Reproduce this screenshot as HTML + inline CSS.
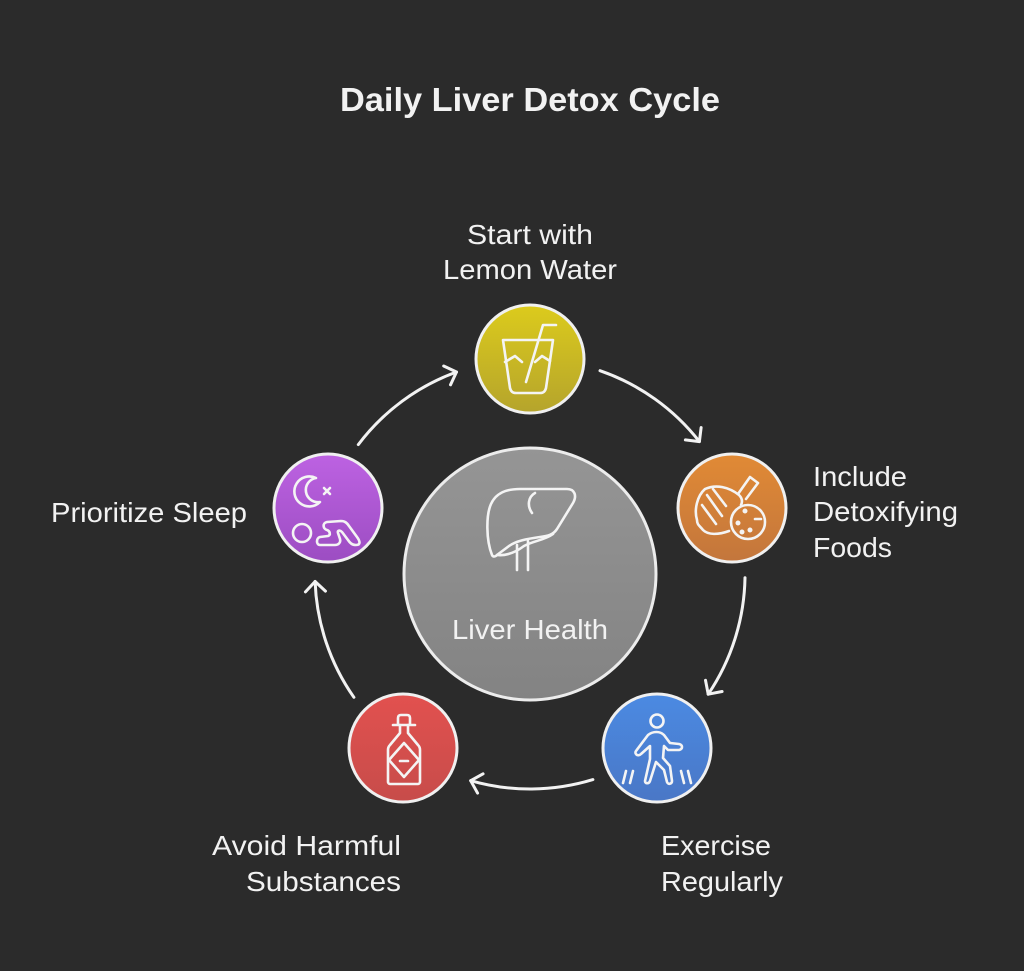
<!DOCTYPE html>
<html>
<head>
<meta charset="utf-8">
<style>
  html,body{margin:0;padding:0;background:#2b2b2b;}
  svg{display:block;}
  text{font-family:"Liberation Sans", sans-serif;fill:#f2f2f2;}
</style>
</head>
<body>
<svg width="1024" height="971" viewBox="0 0 1024 971" xmlns="http://www.w3.org/2000/svg">
  <defs>
    <linearGradient id="gC" x1="0" y1="0" x2="0" y2="1">
      <stop offset="0" stop-color="#959595"/>
      <stop offset="1" stop-color="#838383"/>
    </linearGradient>
    <linearGradient id="gY" x1="0" y1="0" x2="0" y2="1">
      <stop offset="0" stop-color="#dccb1c"/>
      <stop offset="1" stop-color="#b5a42c"/>
    </linearGradient>
    <linearGradient id="gO" x1="0" y1="0" x2="0" y2="1">
      <stop offset="0" stop-color="#e18a35"/>
      <stop offset="1" stop-color="#c3763c"/>
    </linearGradient>
    <linearGradient id="gB" x1="0" y1="0" x2="0" y2="1">
      <stop offset="0" stop-color="#4b8ae2"/>
      <stop offset="1" stop-color="#4a77c6"/>
    </linearGradient>
    <linearGradient id="gR" x1="0" y1="0" x2="0" y2="1">
      <stop offset="0" stop-color="#e2514f"/>
      <stop offset="1" stop-color="#c74c4a"/>
    </linearGradient>
    <linearGradient id="gP" x1="0" y1="0" x2="0" y2="1">
      <stop offset="0" stop-color="#bd62e2"/>
      <stop offset="1" stop-color="#9c4dc2"/>
    </linearGradient>
    <marker id="ah" markerUnits="userSpaceOnUse" markerWidth="30" markerHeight="30" refX="0" refY="0" viewBox="-15 -15 30 30" orient="auto">
      <path d="M -10 -10 L 0 0 L -10 10" fill="none" stroke="#f2f2f2" stroke-width="3" stroke-linecap="round" stroke-linejoin="round"/>
    </marker>
  </defs>

  <rect width="1024" height="971" fill="#2b2b2b"/>

  <!-- Title -->
  <text x="340" y="111" font-size="33" font-weight="bold" textLength="380" lengthAdjust="spacingAndGlyphs">Daily Liver Detox Cycle</text>

  <!-- Arrows -->
  <g fill="none" stroke="#f2f2f2" stroke-width="3" stroke-linecap="round" marker-end="url(#ah)">
    <path d="M 600.0 370.7 A 215 215 0 0 1 699.4 441.6"/>
    <path d="M 745.0 577.8 A 215 215 0 0 1 708.2 694.2"/>
    <path d="M 592.9 779.6 A 215 215 0 0 1 470.7 780.7"/>
    <path d="M 353.9 697.3 A 215 215 0 0 1 315.1 581.5"/>
    <path d="M 358.3 444.6 A 215 215 0 0 1 456.5 372.0"/>
  </g>

  <!-- Central circle -->
  <circle cx="530" cy="574" r="126" fill="url(#gC)" stroke="#ececec" stroke-width="3"/>
  <g fill="none" stroke="#f4f4f4" stroke-width="2.6" stroke-linecap="round" stroke-linejoin="round">
    <path d="M 492 555 C 486 540, 486 515, 491 504 C 496 493, 506 489, 520 489 L 567 489 C 575 489, 577 496, 573 503 L 557 529 C 553 535, 548 536, 540 537 C 526 539, 516 541, 509 546 L 497 555 C 495 557, 493 557, 492 555 Z"/>
    <path d="M 497 555 C 507 556, 516 552, 524 546 C 533 541, 545 540, 553 534"/>
    <path d="M 535 493 C 528 497, 527 506, 532 513"/>
    <path d="M 517 545 V 570 M 528 541 V 570"/>
  </g>
  <text x="452" y="639" font-size="28" textLength="156" lengthAdjust="spacingAndGlyphs">Liver Health</text>

  <!-- Yellow node -->
  <circle cx="530" cy="359" r="54" fill="url(#gY)" stroke="#f0f0f0" stroke-width="3"/>
  <g fill="none" stroke="#f4f4f4" stroke-width="2.6" stroke-linecap="round" stroke-linejoin="round">
    <path d="M 503 340 L 553 340 L 546 388 C 545 392, 543 393, 540 393 L 516 393 C 513 393, 511 392, 510 388 Z"/>
    <path d="M 505 362 L 515 356 L 522 362 M 535 362 L 542 356 L 550 361"/>
    <path d="M 526 382 L 543 325 L 556 325"/>
  </g>

  <!-- Orange node -->
  <circle cx="732" cy="508" r="54" fill="url(#gO)" stroke="#f0f0f0" stroke-width="3"/>
  <g fill="none" stroke="#f4f4f4" stroke-width="2.6" stroke-linecap="round" stroke-linejoin="round">
    <path d="M 729 531 C 718 535, 708 535, 703 530 C 700 526, 697 525, 697 520 C 694 510, 697 496, 705 489 C 716 484, 729 487, 739 495 C 742 498, 743 501, 741 505"/>
    <path d="M 738 494 L 750 477 L 758 483 L 746 499"/>
    <path d="M 713 489 L 726 506 M 707 495 L 722 516 M 702 505 L 716 524"/>
    <circle cx="748" cy="522" r="17"/>
    <path d="M 755 519 L 761 519"/>
    <circle cx="745" cy="511" r="1.2"/>
    <circle cx="738" cy="523" r="1.2"/>
    <circle cx="750" cy="530" r="1.2"/>
    <circle cx="742" cy="532" r="1.2"/>
  </g>

  <!-- Blue node -->
  <circle cx="657" cy="748" r="54" fill="url(#gB)" stroke="#f0f0f0" stroke-width="3"/>
  <g fill="none" stroke="#f4f4f4" stroke-width="2.6" stroke-linecap="round" stroke-linejoin="round">
    <circle cx="657" cy="721" r="6.5"/>
    <path d="M 648 735 C 653 731, 660 731, 664 735 L 670 743 L 679 744 C 683 745, 683 749, 679 750 L 668 750 L 664 746 L 663 758 L 670 766 L 672 781 C 672 784, 668 785, 667 782 L 664 770 L 656 762 L 650 781 C 649 784, 645 784, 645 781 L 650 759 L 650 746 L 641 754 C 638 757, 634 754, 636 751 Z"/>
    <path d="M 626 771 L 623 783 M 633 771 L 630 783 M 681 771 L 684 783 M 688 771 L 691 783"/>
  </g>

  <!-- Red node -->
  <circle cx="403" cy="748" r="54" fill="url(#gR)" stroke="#f0f0f0" stroke-width="3"/>
  <g fill="none" stroke="#f4f4f4" stroke-width="2.6" stroke-linecap="round" stroke-linejoin="round">
    <path d="M 398 724 L 398 718 C 398 716, 399 715, 401 715 L 407 715 C 409 715, 410 716, 410 718 L 410 724"/>
    <path d="M 393 725 L 415 725"/>
    <path d="M 400 725 L 400 733 L 390 745 C 389 746, 388 748, 388 750 L 388 782 C 388 783, 389 784, 390 784 L 418 784 C 419 784, 420 783, 420 782 L 420 750 C 420 748, 419 746, 418 745 L 408 733 L 408 725"/>
    <path d="M 404 743 L 419 760 L 404 777 L 389 760 Z"/>
    <path d="M 400 761 L 408 761"/>
  </g>

  <!-- Purple node -->
  <circle cx="328" cy="508" r="54" fill="url(#gP)" stroke="#f0f0f0" stroke-width="3"/>
  <g fill="none" stroke="#f4f4f4" stroke-width="2.6" stroke-linecap="round" stroke-linejoin="round">
    <path d="M 316 478 A 15 15 0 1 0 320 502 A 12 12 0 0 1 316 478 Z"/>
    <path d="M 324 488 L 330 494 M 330 488 L 324 494"/>
    <circle cx="302" cy="533" r="9"/>
    <path d="M 320 545 C 316 545, 316 538, 320 537 L 328 536 C 331 535, 330 531, 327 530 C 323 529, 322 523, 327 522 L 341 521 C 345 521, 347 523, 349 526 L 357 537 C 360 541, 361 545, 356 545 C 352 545, 350 543, 348 540 L 342 532 C 340 530, 337 530, 338 533 L 340 539 C 341 543, 338 545, 335 545 Z"/>
  </g>

  <!-- Labels -->
  <text x="467" y="244" font-size="28" textLength="126" lengthAdjust="spacingAndGlyphs">Start with</text>
  <text x="443" y="279" font-size="28" textLength="174" lengthAdjust="spacingAndGlyphs">Lemon Water</text>

  <text x="813" y="486" font-size="28" textLength="94" lengthAdjust="spacingAndGlyphs">Include</text>
  <text x="813" y="521" font-size="28" textLength="145" lengthAdjust="spacingAndGlyphs">Detoxifying</text>
  <text x="813" y="557" font-size="28" textLength="79" lengthAdjust="spacingAndGlyphs">Foods</text>

  <text x="51" y="522" font-size="28" textLength="196" lengthAdjust="spacingAndGlyphs">Prioritize Sleep</text>

  <text x="212" y="855" font-size="28" textLength="189" lengthAdjust="spacingAndGlyphs">Avoid Harmful</text>
  <text x="246" y="891" font-size="28" textLength="155" lengthAdjust="spacingAndGlyphs">Substances</text>

  <text x="661" y="855" font-size="28" textLength="110" lengthAdjust="spacingAndGlyphs">Exercise</text>
  <text x="661" y="891" font-size="28" textLength="122" lengthAdjust="spacingAndGlyphs">Regularly</text>
</svg>
</body>
</html>
